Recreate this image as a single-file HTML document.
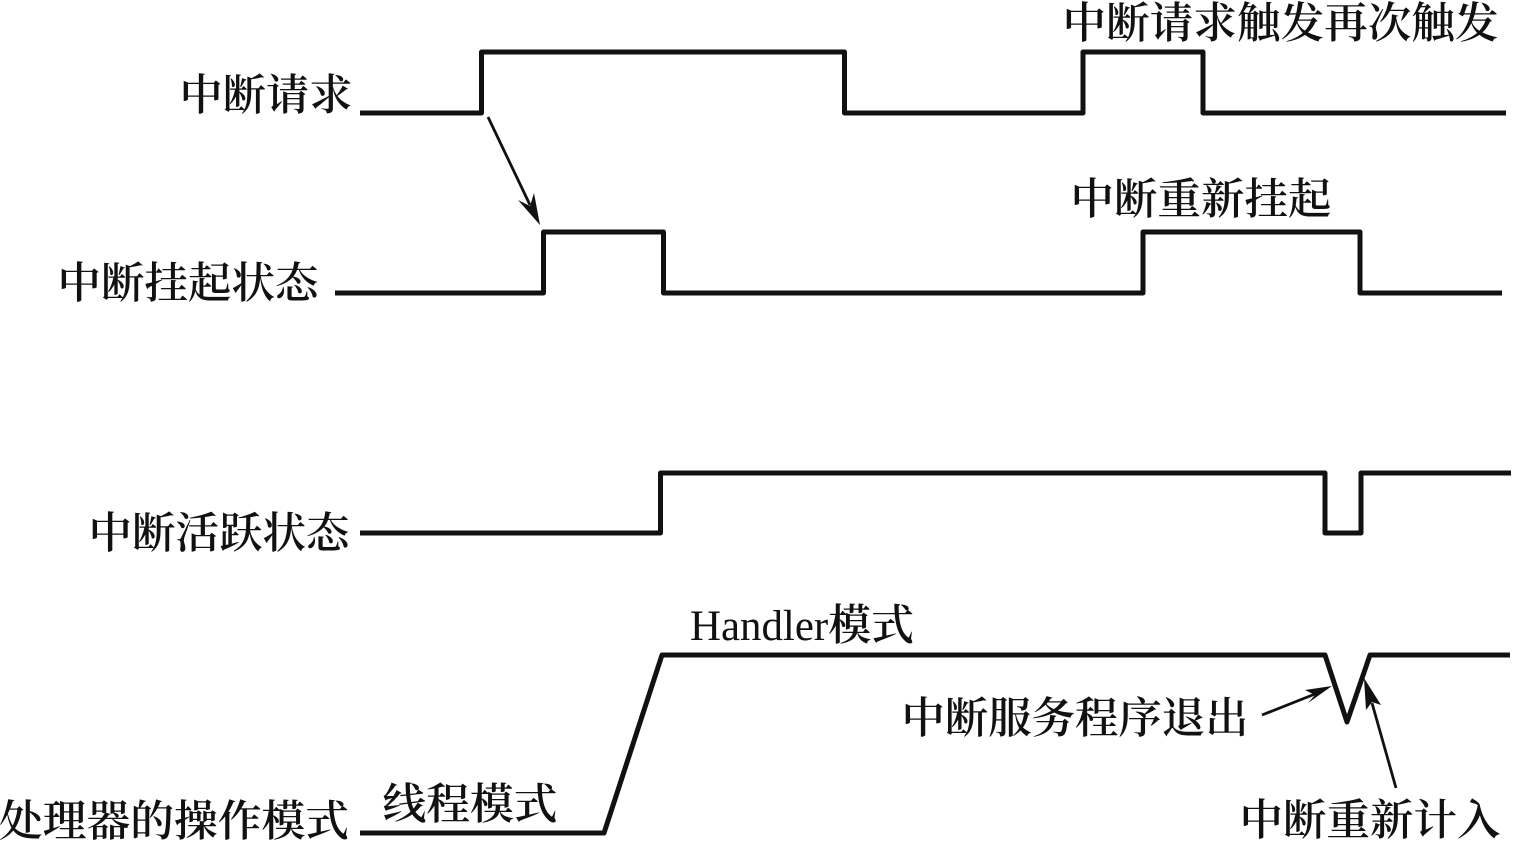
<!DOCTYPE html>
<html><head><meta charset="utf-8"><style>html,body{margin:0;padding:0;background:#fff}svg{display:block}</style></head>
<body>
<svg width="1513" height="842" viewBox="0 0 1513 842" xmlns="http://www.w3.org/2000/svg">
<g fill="none" stroke="#111" stroke-width="5" stroke-linejoin="round">
<polyline points="360,113 481.5,113 481.5,52 844.5,52 844.5,113 1083,113 1083,52 1203,52 1203,113 1506,113"/>
<polyline points="335,293 543.5,293 543.5,232 663.5,232 663.5,293 1143,293 1143,232 1360,232 1360,293 1502,293"/>
<polyline points="360,533 660.5,533 660.5,473 1325,473 1325,533 1361,533 1361,473 1511,473"/>
<polyline points="360,833 604,833 662,655 1325,655 1347,722 1370,655 1510,655"/>
</g>
<g fill="none" stroke="#111" stroke-width="2.8">
<line x1="488" y1="117" x2="530" y2="205"/>
<line x1="1262" y1="715" x2="1315" y2="694"/>
<line x1="1396" y1="788" x2="1372" y2="703"/>
</g>
<g fill="#111" stroke="none">
<polygon points="540,225 518,200 530,206 534,193"/>
<polygon points="1332,686 1305,690 1315,695 1308,703"/>
<polygon points="1364,678 1381,705 1372,702 1366,710"/>
</g>
<g font-family="'Liberation Serif','Noto Serif CJK SC',serif" font-size="43" fill="#111" font-weight="600">
<text x="179.5" y="110" textLength="173" lengthAdjust="spacingAndGlyphs">中断请求</text>
<text x="1062.5" y="38" textLength="436" lengthAdjust="spacingAndGlyphs">中断请求触发再次触发</text>
<text x="1070.5" y="214" textLength="261" lengthAdjust="spacingAndGlyphs">中断重新挂起</text>
<text x="57.5" y="298" textLength="261" lengthAdjust="spacingAndGlyphs">中断挂起状态</text>
<text x="88.5" y="548" textLength="261" lengthAdjust="spacingAndGlyphs">中断活跃状态</text>
<text x="690" y="640" textLength="224" lengthAdjust="spacingAndGlyphs"><tspan font-weight="400">Handler</tspan>模式</text>
<text x="901.5" y="733" textLength="347" lengthAdjust="spacingAndGlyphs">中断服务程序退出</text>
<text x="382.5" y="819" textLength="175" lengthAdjust="spacingAndGlyphs">线程模式</text>
<text x="-1" y="836" textLength="350" lengthAdjust="spacingAndGlyphs">处理器的操作模式</text>
<text x="1239.5" y="835" textLength="261" lengthAdjust="spacingAndGlyphs">中断重新计入</text>
</g>
</svg>
</body></html>
